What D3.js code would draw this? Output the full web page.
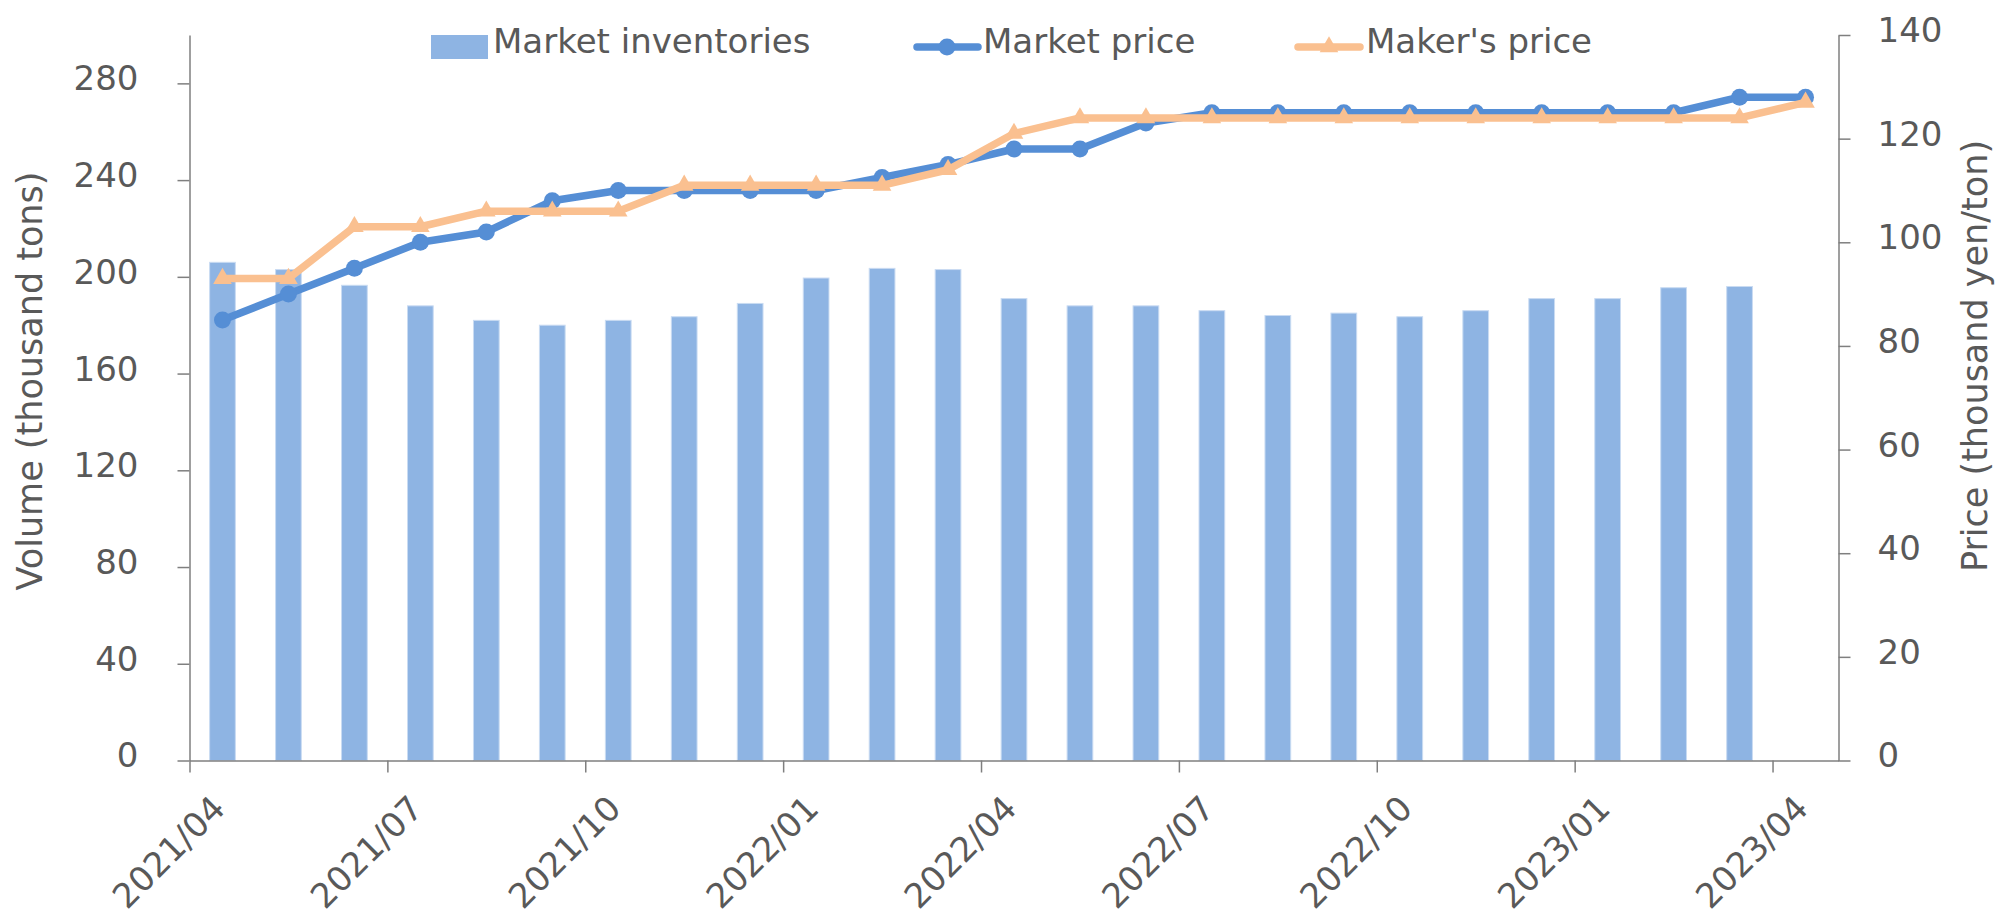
<!DOCTYPE html>
<html>
<head>
<meta charset="utf-8">
<script src="https://cdn.jsdelivr.net/npm/d3@7"></script>
<style>
  body { margin: 0; background: #fff; }
  svg text { font-family: "DejaVu Sans", sans-serif; fill: #595959; }
</style>
</head>
<body>
<svg id="chart" width="2000" height="915"></svg>
<script>
// monthly categories on the date axis
const months = [
  '2021/04', '2021/05', '2021/06', '2021/07', '2021/08', '2021/09', '2021/10', '2021/11', '2021/12',
  '2022/01', '2022/02', '2022/03', '2022/04', '2022/05', '2022/06', '2022/07', '2022/08', '2022/09',
  '2022/10', '2022/11', '2022/12', '2023/01', '2023/02', '2023/03', '2023/04'
];
const quarterLabels = ['2021/04', '2021/07', '2021/10', '2022/01', '2022/04', '2022/07', '2022/10', '2023/01', '2023/04'];

// thousand tons (no bar for 2023/04)
const inventories = [206, 203, 196.5, 188, 182, 180, 182, 183.5, 189, 199.5, 203.5, 203,
  191, 188, 188, 186, 184, 185, 183.5, 186, 191, 191, 195.5, 196];
// thousand yen/ton
const marketPrice = [85, 90, 95, 100, 102, 108, 110, 110, 110, 110, 112.5, 115, 118, 118, 123,
  125, 125, 125, 125, 125, 125, 125, 125, 128, 128];
const makerPrice = [93, 93, 103, 103, 106, 106, 106, 111, 111, 111, 111, 114, 121, 124, 124,
  124, 124, 124, 124, 124, 124, 124, 124, 124, 127];

const leftTicks = [0, 40, 80, 120, 160, 200, 240, 280];
const rightTicks = [0, 20, 40, 60, 80, 100, 120, 140];
const seriesNames = ['Market inventories', 'Market price', "Maker's price"];

const barColor = '#8EB4E3';
const marketColor = '#558ED5';
const makerColor = '#FAC090';
const axisColor = '#7f7f7f';

const svg = d3.select('#chart');
const plotLeft = 189.5, plotRight = 1838.5, plotTop = 35, plotBottom = 760.5;

const x = d3.scaleLinear().domain([0, months.length]).range([plotLeft, plotRight]);
const yLeft = d3.scaleLinear().domain([0, 300]).range([plotBottom, plotTop]);
const yRight = d3.scaleLinear().domain([0, 140]).range([plotBottom, plotTop]);
const barWidth = (x(1) - x(0)) * 0.39;

// bars
svg.append('g').selectAll('rect')
  .data(inventories)
  .enter().append('rect')
  .attr('x', function (d, i) { return x(i + 0.5) - barWidth / 2; })
  .attr('y', function (d) { return yLeft(d); })
  .attr('width', barWidth)
  .attr('height', function (d) { return yLeft(0) - yLeft(d); })
  .attr('fill', barColor)
  .attr('stroke', '#c9dbf2')
  .attr('stroke-width', 1);

function styleAxis(g) {
  g.attr('font-size', 34).attr('font-family', '"DejaVu Sans", sans-serif').attr('color', axisColor);
  g.select('.domain').attr('stroke-width', 1.5);
  g.selectAll('.tick line').attr('stroke-width', 1.5);
  g.selectAll('.tick text').style('fill', '#595959');
}

// x axis
const xAxis = d3.axisBottom(x)
  .tickValues(quarterLabels.map(function (l) { return months.indexOf(l); }))
  .tickFormat(function (i) { return months[i]; })
  .tickSize(12)
  .tickSizeOuter(0);
const gx = svg.append('g').attr('transform', 'translate(0,' + plotBottom + ')').call(xAxis).call(styleAxis);
gx.selectAll('.tick text')
  .attr('y', null)
  .attr('dy', null)
  .attr('text-anchor', 'end')
  .attr('transform', 'translate(37,50) rotate(-45)');

// left axis
const gl = svg.append('g').attr('transform', 'translate(' + plotLeft + ',0)')
  .call(d3.axisLeft(yLeft).tickValues(leftTicks).tickSize(12).tickSizeOuter(0).tickPadding(39))
  .call(styleAxis);
gl.selectAll('.tick text').attr('dy', '0.19em');

// right axis
const gr = svg.append('g').attr('transform', 'translate(' + plotRight + ',0)')
  .call(d3.axisRight(yRight).tickValues(rightTicks).tickSize(12).tickSizeOuter(0).tickPadding(27))
  .call(styleAxis);
gr.selectAll('.tick text').attr('dy', '0.19em');

// axis titles
svg.append('text')
  .attr('transform', 'translate(42,381) rotate(-90)')
  .attr('text-anchor', 'middle')
  .style('font-size', '35px')
  .text('Volume (thousand tons)');
svg.append('text')
  .attr('transform', 'translate(1987,356) rotate(-90)')
  .attr('text-anchor', 'middle')
  .style('font-size', '35px')
  .text('Price (thousand yen/ton)');

// price lines
const line = d3.line()
  .x(function (d, i) { return x(i + 0.5); })
  .y(function (d) { return yRight(d); });

const triangle = d3.symbol().type(d3.symbolTriangle).size(150);

svg.append('path').datum(marketPrice)
  .attr('d', line)
  .attr('fill', 'none')
  .attr('stroke', marketColor)
  .attr('stroke-width', 7.5)
  .attr('stroke-linejoin', 'round');
svg.append('g').selectAll('circle')
  .data(marketPrice)
  .enter().append('circle')
  .attr('cx', function (d, i) { return x(i + 0.5); })
  .attr('cy', function (d) { return yRight(d); })
  .attr('r', 8.5)
  .attr('fill', marketColor);

svg.append('path').datum(makerPrice)
  .attr('d', line)
  .attr('fill', 'none')
  .attr('stroke', makerColor)
  .attr('stroke-width', 7.5)
  .attr('stroke-linejoin', 'round');
svg.append('g').selectAll('path')
  .data(makerPrice)
  .enter().append('path')
  .attr('d', triangle)
  .attr('transform', function (d, i) { return 'translate(' + x(i + 0.5) + ',' + yRight(d) + ')'; })
  .attr('fill', makerColor);

// legend
const legend = svg.append('g').style('font-size', '34px');
legend.append('rect')
  .attr('x', 431).attr('y', 35).attr('width', 57).attr('height', 24)
  .attr('fill', barColor);
legend.append('text').attr('x', 493).attr('y', 53).text(seriesNames[0]);

legend.append('line')
  .attr('x1', 917).attr('x2', 978).attr('y1', 47).attr('y2', 47)
  .attr('stroke', marketColor).attr('stroke-width', 7.5).attr('stroke-linecap', 'round');
legend.append('circle').attr('cx', 947).attr('cy', 47).attr('r', 8.5).attr('fill', marketColor);
legend.append('text').attr('x', 983).attr('y', 53).text(seriesNames[1]);

legend.append('line')
  .attr('x1', 1298).attr('x2', 1360).attr('y1', 47).attr('y2', 47)
  .attr('stroke', makerColor).attr('stroke-width', 7.5).attr('stroke-linecap', 'round');
legend.append('path').attr('d', triangle).attr('transform', 'translate(1329,47)').attr('fill', makerColor);
legend.append('text').attr('x', 1366).attr('y', 53).text(seriesNames[2]);
</script>
</body>
</html>
